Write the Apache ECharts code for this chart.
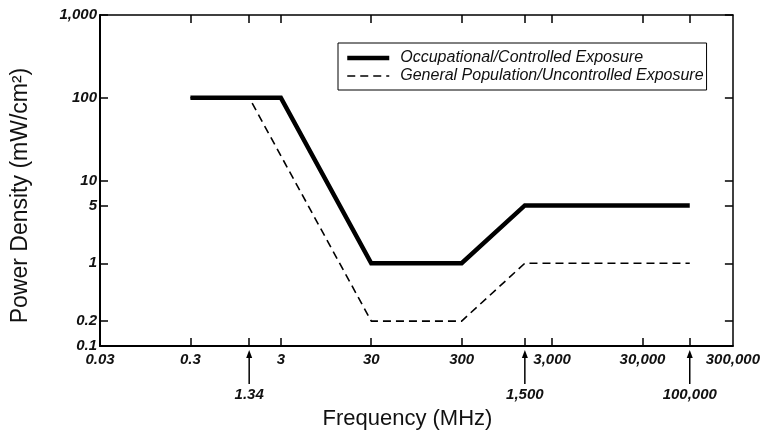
<!DOCTYPE html>
<html>
<head>
<meta charset="utf-8">
<script src="https://cdn.jsdelivr.net/npm/echarts@6/dist/echarts.min.js"></script>
<style>
  html, body { margin: 0; padding: 0; background: #fff; }
  #main { width: 763px; height: 435px; }
</style>
</head>
<body>
<div id="main"></div>
<script>
// exposure limits
const occFreq = [0.3, 3, 30, 300, 1500, 100000]
const occDensity = [100, 100, 1, 1, 5, 5]
const genFreq = [0.3, 1.34, 30, 300, 1500, 100000]
const genDensity = [100, 100, 0.2, 0.2, 1, 1]

const xTickLabels = [0.03, 0.3, 3, 30, 300, 3000, 30000, 300000]
const xTickMarks = [0.3, 1.34, 3, 30, 300, 1500, 3000, 30000, 100000]
const yTickLabels = [0.1, 0.2, 1, 5, 10, 100, 1000]
const arrowFreqs = [1.34, 1500, 100000]

const FONT = 'Liberation Sans, Arial, Helvetica, sans-serif'

function fmt(v) {
    v = +Number(v).toPrecision(6)
    return v >= 1000 ? v.toLocaleString('en-US') : String(v)
}

let myChart = echarts.init(document.getElementById('main'))

const tickLabelStyle = {
    color: '#111',
    fontFamily: FONT,
    fontStyle: 'italic',
    fontWeight: 'bold',
    fontSize: 15
}

let option = {
    animation: false,
    backgroundColor: '#fff',
    grid: {
        left: 100,
        right: 24,
        top: 15,
        bottom: 88
    },
    legend: {
        orient: 'vertical',
        left: 338,
        top: 43,
        padding: [7, 3, 6, 7],
        itemGap: 2,
        itemWidth: 42,
        itemHeight: 16,
        borderColor: '#000',
        borderWidth: 1,
        itemStyle: { opacity: 0 },
        lineStyle: { width: 'inherit' },
        textStyle: {
            color: '#111',
            fontFamily: FONT,
            fontStyle: 'italic',
            fontSize: 16,
            padding: [0, 0, 0, 6]
        },
        data: ['Occupational/Controlled Exposure', 'General Population/Uncontrolled Exposure']
    },
    xAxis: [{
        type: 'log',
        logBase: 10,
        min: 0.03,
        max: 300000,
        position: 'bottom',
        name: 'Frequency (MHz)',
        nameLocation: 'middle',
        nameGap: 62,
        nameTextStyle: {
            color: '#111',
            fontFamily: FONT,
            fontSize: 22,
            padding: [0, 18, 0, 0]
        },
        axisLine: { lineStyle: { color: '#000', width: 2 } },
        axisTick: {
            inside: true,
            length: 8,
            customValues: xTickMarks,
            lineStyle: { color: '#000', width: 1.5 }
        },
        axisLabel: {
            customValues: xTickLabels,
            margin: 6,
            formatter: fmt,
            ...tickLabelStyle
        },
        splitLine: { show: false },
        minorTick: { show: false }
    }, {
        type: 'log',
        logBase: 10,
        min: 0.03,
        max: 300000,
        position: 'top',
        axisLine: { lineStyle: { color: '#000', width: 1.5 } },
        axisTick: {
            inside: true,
            length: 8,
            customValues: xTickMarks,
            lineStyle: { color: '#000', width: 1.5 }
        },
        axisLabel: { show: false },
        splitLine: { show: false }
    }],
    yAxis: [{
        type: 'log',
        logBase: 10,
        min: 0.1,
        max: 1000,
        position: 'left',
        name: 'Power Density (mW/cm²)',
        nameLocation: 'middle',
        nameGap: 68,
        nameTextStyle: {
            color: '#111',
            fontFamily: FONT,
            fontSize: 23,
            padding: [0, 30, 0, 0]
        },
        axisLine: { lineStyle: { color: '#000', width: 2 } },
        axisTick: {
            inside: true,
            length: 8,
            customValues: yTickLabels,
            lineStyle: { color: '#000', width: 1.5 }
        },
        axisLabel: {
            customValues: yTickLabels,
            margin: 3,
            formatter: fmt,
            ...tickLabelStyle
        },
        splitLine: { show: false }
    }, {
        type: 'log',
        logBase: 10,
        min: 0.1,
        max: 1000,
        position: 'right',
        axisLine: { lineStyle: { color: '#000', width: 1.5 } },
        axisTick: {
            inside: true,
            length: 8,
            customValues: yTickLabels,
            lineStyle: { color: '#000', width: 1.5 }
        },
        axisLabel: { show: false },
        splitLine: { show: false }
    }],
    series: [{
        name: 'General Population/Uncontrolled Exposure',
        type: 'line',
        symbol: 'none',
        z: 2,
        itemStyle: { color: 'rgba(0,0,0,0)' },
        lineStyle: { color: '#000', width: 1.6, type: [8, 5] },
        data: genFreq.map((f, i) => [f, genDensity[i]])
    }, {
        name: 'Occupational/Controlled Exposure',
        type: 'line',
        symbol: 'none',
        z: 3,
        itemStyle: { color: 'rgba(0,0,0,0)' },
        lineStyle: { color: '#000', width: 4.5, cap: 'butt', join: 'miter' },
        data: occFreq.map((f, i) => [f, occDensity[i]])
    }]
}

myChart.setOption(option)

// arrows under the frequency axis pointing at the break points
const yBottom = myChart.convertToPixel({ yAxisIndex: 0 }, 0.1)
let marks = []
arrowFreqs.forEach(f => {
    const x = myChart.convertToPixel({ xAxisIndex: 0 }, f)
    marks.push({
        type: 'line',
        shape: { x1: x, y1: yBottom + 38, x2: x, y2: yBottom + 10 },
        style: { stroke: '#000', lineWidth: 1.5 }
    })
    marks.push({
        type: 'polygon',
        shape: { points: [[x, yBottom + 4], [x - 3, yBottom + 12], [x + 3, yBottom + 12]] },
        style: { fill: '#000' }
    })
    marks.push({
        type: 'text',
        x: x,
        y: yBottom + 41,
        style: {
            text: fmt(f),
            fill: '#111',
            font: 'italic bold 15px ' + FONT,
            align: 'center',
            verticalAlign: 'top'
        }
    })
})
myChart.setOption({ graphic: marks })
</script>
</body>
</html>
